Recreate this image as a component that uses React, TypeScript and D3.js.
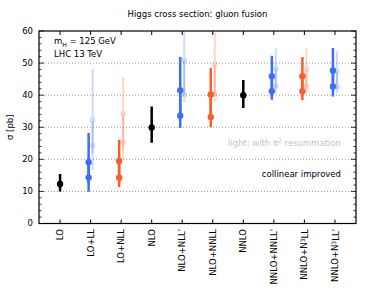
import React from "react";
import * as d3 from "d3";

const categories = ["LO", "LO+LL", "LO+NLL", "NLO", "NLO+NLL'", "NLO+NNLL", "NNLO", "NNLO+NNLL'", "NNLO+N^3LL", "NNLO+N^3LL'"];
const yTicks = [0, 10, 20, 30, 40, 50, 60];

const blackCats = ["LO", "NLO", "NNLO"];
const blackVals = [12.3, 29.9, 40.0];
const blackLo = [10.0, 25.2, 36.0];
const blackHi = [15.4, 36.5, 44.7];

const blueCats = ["LO+LL", "LO+LL", "NLO+NLL'", "NLO+NLL'", "NNLO+NNLL'", "NNLO+NNLL'", "NNLO+N^3LL'", "NNLO+N^3LL'"];
const blueVals = [19.1, 14.3, 41.5, 33.6, 45.9, 41.2, 47.7, 42.7];
const blueLo = [12.5, 9.9, 33.5, 29.8, 40.5, 38.6, 42.5, 39.6];
const blueHi = [28.2, 20.5, 51.9, 41.5, 52.3, 46.0, 54.7, 48.0];

const redCats = ["LO+NLL", "LO+NLL", "NLO+NNLL", "NLO+NNLL", "NNLO+N^3LL", "NNLO+N^3LL"];
const redVals = [19.5, 14.3, 40.2, 33.2, 45.9, 41.2];
const redLo = [13.0, 11.3, 33.0, 30.0, 40.5, 38.4];
const redHi = [26.1, 20.0, 48.5, 40.5, 51.9, 46.0];

const lightBlueCats = ["LO+LL", "LO+LL", "NLO+NLL'", "NLO+NLL'", "NNLO+NNLL'", "NNLO+NNLL'", "NNLO+N^3LL'", "NNLO+N^3LL'"];
const lightBlueVals = [32.3, 24.2, 50.9, 40.2, 48.3, 42.9, 47.4, 42.6];
const lightBlueLo = [22.0, 16.7, 40.0, 37.9, 42.0, 40.7, 42.0, 40.7];
const lightBlueHi = [48.2, 32.0, 60.0, 50.9, 54.7, 48.5, 53.7, 47.5];

const lightRedCats = ["LO+NLL", "LO+NLL", "NLO+NNLL", "NLO+NNLL", "NNLO+N^3LL", "NNLO+N^3LL"];
const lightRedVals = [34.2, 25.3, 49.5, 40.2, 48.2, 42.8];
const lightRedLo = [23.0, 20.0, 40.0, 38.0, 42.0, 40.5];
const lightRedHi = [45.7, 34.0, 59.5, 49.5, 54.5, 48.0];

const BLUE = "#3d6ef5";
const RED = "#fb5c2c";
const FONT = "'DejaVu Sans', sans-serif";

const L = 39, R = 356, T = 31, B = 223.5;

function Label({ text, x, y }: { text: string; x: number; y: number }) {
  const parts = text.split("^");
  return (
    <text transform={`translate(${x},${y}) rotate(-90)`} textAnchor="end" dy="0.35em" fontSize={8.5} fontFamily={FONT}>
      {parts.length === 1 ? (
        text
      ) : (
        <>
          {parts[0]}
          <tspan dy="-0.4em" fontSize={6}>{parts[1][0]}</tspan>
          <tspan dy="0.4em">{parts[1].slice(1)}</tspan>
        </>
      )}
    </text>
  );
}

export default function App() {
  const x = d3.scalePoint<string>().domain(categories).range([L, R]).padding(0.69);
  const y = d3.scaleLinear().domain([0, 60]).range([B, T]);
  const minor = d3.range(0, 61, 2);

  const bars = (cats: string[], vals: number[], lo: number[], hi: number[], color: string, off: number, light: boolean) =>
    cats.map((c, i) => {
      const cx = (x(c) as number) + off;
      return (
        <g key={c + i + color + off} opacity={light ? 0.25 : 1}>
          <line x1={cx} x2={cx} y1={y(Math.min(hi[i], 60))} y2={y(lo[i])} stroke={color} strokeWidth={light ? 2 : 2.5} />
          {light ? (
            <rect x={cx - 2.5} y={y(vals[i]) - 2.5} width={5} height={5} fill={color} />
          ) : (
            <circle cx={cx} cy={y(vals[i])} r={3.2} fill={color} />
          )}
        </g>
      );
    });

  return (
    <svg width={374} height={298} style={{ position: "absolute", left: 0, top: 0 }} fontFamily={FONT}>
      <rect width={374} height={298} fill="#fff" />
      <text x={(L + R) / 2} y={17} textAnchor="middle" fontSize={8.5}>Higgs cross section: gluon fusion</text>
      {yTicks.filter((t) => t > 0 && t < 60).map((t) => (
        <line key={"g" + t} x1={L} x2={R} y1={y(t)} y2={y(t)} stroke="#999" strokeWidth={1} strokeDasharray="1,2" />
      ))}
      {minor.map((t) => {
        const len = t % 10 === 0 ? 5 : 2.5;
        return (
          <g key={"m" + t}>
            <line x1={L} x2={L + len} y1={y(t)} y2={y(t)} stroke="#000" strokeWidth={0.8} />
            <line x1={R} x2={R - len} y1={y(t)} y2={y(t)} stroke="#000" strokeWidth={0.8} />
          </g>
        );
      })}
      {categories.map((c) => (
        <g key={"xt" + c}>
          <line x1={x(c)} x2={x(c)} y1={T} y2={T + 4} stroke="#000" strokeWidth={1} />
          <line x1={x(c)} x2={x(c)} y1={B} y2={B - 4} stroke="#000" strokeWidth={1} />
        </g>
      ))}
      {yTicks.map((t) => (
        <text key={"yl" + t} x={33} y={y(t)} dy="0.35em" textAnchor="end" fontSize={8.5}>{t}</text>
      ))}
      <text transform={`translate(13,${(T + B) / 2}) rotate(-90)`} textAnchor="middle" fontSize={8.5}>σ [pb]</text>
      {categories.map((c) => (
        <Label key={"xl" + c} text={c} x={x(c) as number} y={229} />
      ))}
      <g clipPath="url(#clip)">
        {bars(lightBlueCats, lightBlueVals, lightBlueLo, lightBlueHi, BLUE, 2, true)}
        {bars(lightRedCats, lightRedVals, lightRedLo, lightRedHi, RED, 2, true)}
        {bars(blueCats, blueVals, blueLo, blueHi, BLUE, -2, false)}
        {bars(redCats, redVals, redLo, redHi, RED, -2, false)}
        {bars(blackCats, blackVals, blackLo, blackHi, "#000", 0, false)}
      </g>
      <defs>
        <clipPath id="clip">
          <rect x={L} y={T} width={R - L} height={B - T} />
        </clipPath>
      </defs>
      <text x={54} y={44} fontSize={8.5}>
        m<tspan dy="2.5" fontSize={6}>H</tspan><tspan dy="-2.5"> = 125 GeV</tspan>
      </text>
      <text x={54} y={56.5} fontSize={8.5}>LHC 13 TeV</text>
      <text x={341} y={145.5} textAnchor="end" fontSize={8.5} fill="#c4c4c4">
        light: with π<tspan dy="-3" fontSize={6}>2</tspan><tspan dy="3"> resummation</tspan>
      </text>
      <text x={341} y={177} textAnchor="end" fontSize={8.5}>collinear improved</text>
      <rect x={L} y={T} width={R - L} height={B - T} fill="none" stroke="#000" strokeWidth={1.2} />
    </svg>
  );
}
